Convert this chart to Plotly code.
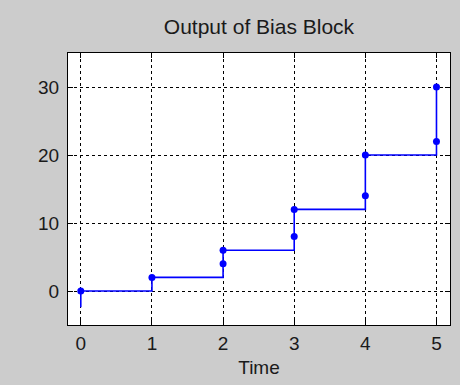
import plotly.graph_objects as go

# sampled output of the bias block (markers)
sample_t = [0, 1, 2, 2, 3, 3, 4, 4, 5, 5]
sample_y = [0, 2, 4, 6, 8, 12, 14, 20, 22, 30]

# staircase trace as drawn by the scope
step_t = [0, 0, 1, 1, 2, 2, 3, 3, 4, 4, 5, 5]
step_y = [-2.4, 0, 0, 2, 2, 6, 6, 12, 12, 20, 20, 30]

x_ticks = [0, 1, 2, 3, 4, 5]
y_ticks = [0, 10, 20, 30]

fig = go.Figure()
fig.add_trace(go.Scatter(x=step_t, y=step_y, mode='lines',
                         line=dict(color='#0000ff', width=1.6), showlegend=False))
fig.add_trace(go.Scatter(x=sample_t, y=sample_y, mode='markers',
                         marker=dict(color='#0000ff', size=7, symbol='circle'), showlegend=False))

axis_style = dict(showline=True, linecolor='black', linewidth=1, mirror='ticks',
                  ticks='inside', ticklen=5, tickcolor='black',
                  showgrid=True, gridcolor='black', gridwidth=1, griddash='3px,3px',
                  zeroline=False, tickfont=dict(size=19, color='#1a1a1a'))

fig.update_xaxes(range=[-0.18, 5.19], tickvals=x_ticks, ticklabelstandoff=1, **axis_style,
                 title=dict(text='Time', font=dict(size=19, color='#1a1a1a'), standoff=7))
fig.update_yaxes(range=[-5, 35], tickvals=y_ticks, ticklabelstandoff=4, **axis_style)

fig.update_layout(
    width=460, height=385,
    margin=dict(l=68, r=10, t=53, b=60),
    paper_bgcolor='#cccccc', plot_bgcolor='white',
    font=dict(family='Liberation Sans, Arial, sans-serif'),
    title=dict(text='Output of Bias Block', x=0.563, xanchor='center', y=0.93, yanchor='middle',
               font=dict(size=21, color='#1a1a1a')),
)

# drop the browser's default body margin so the figure fills the window
fig.write_html("out.html", config={'displayModeBar': False},
               post_script="document.body.style.margin='0';document.body.style.background='#cccccc';")
